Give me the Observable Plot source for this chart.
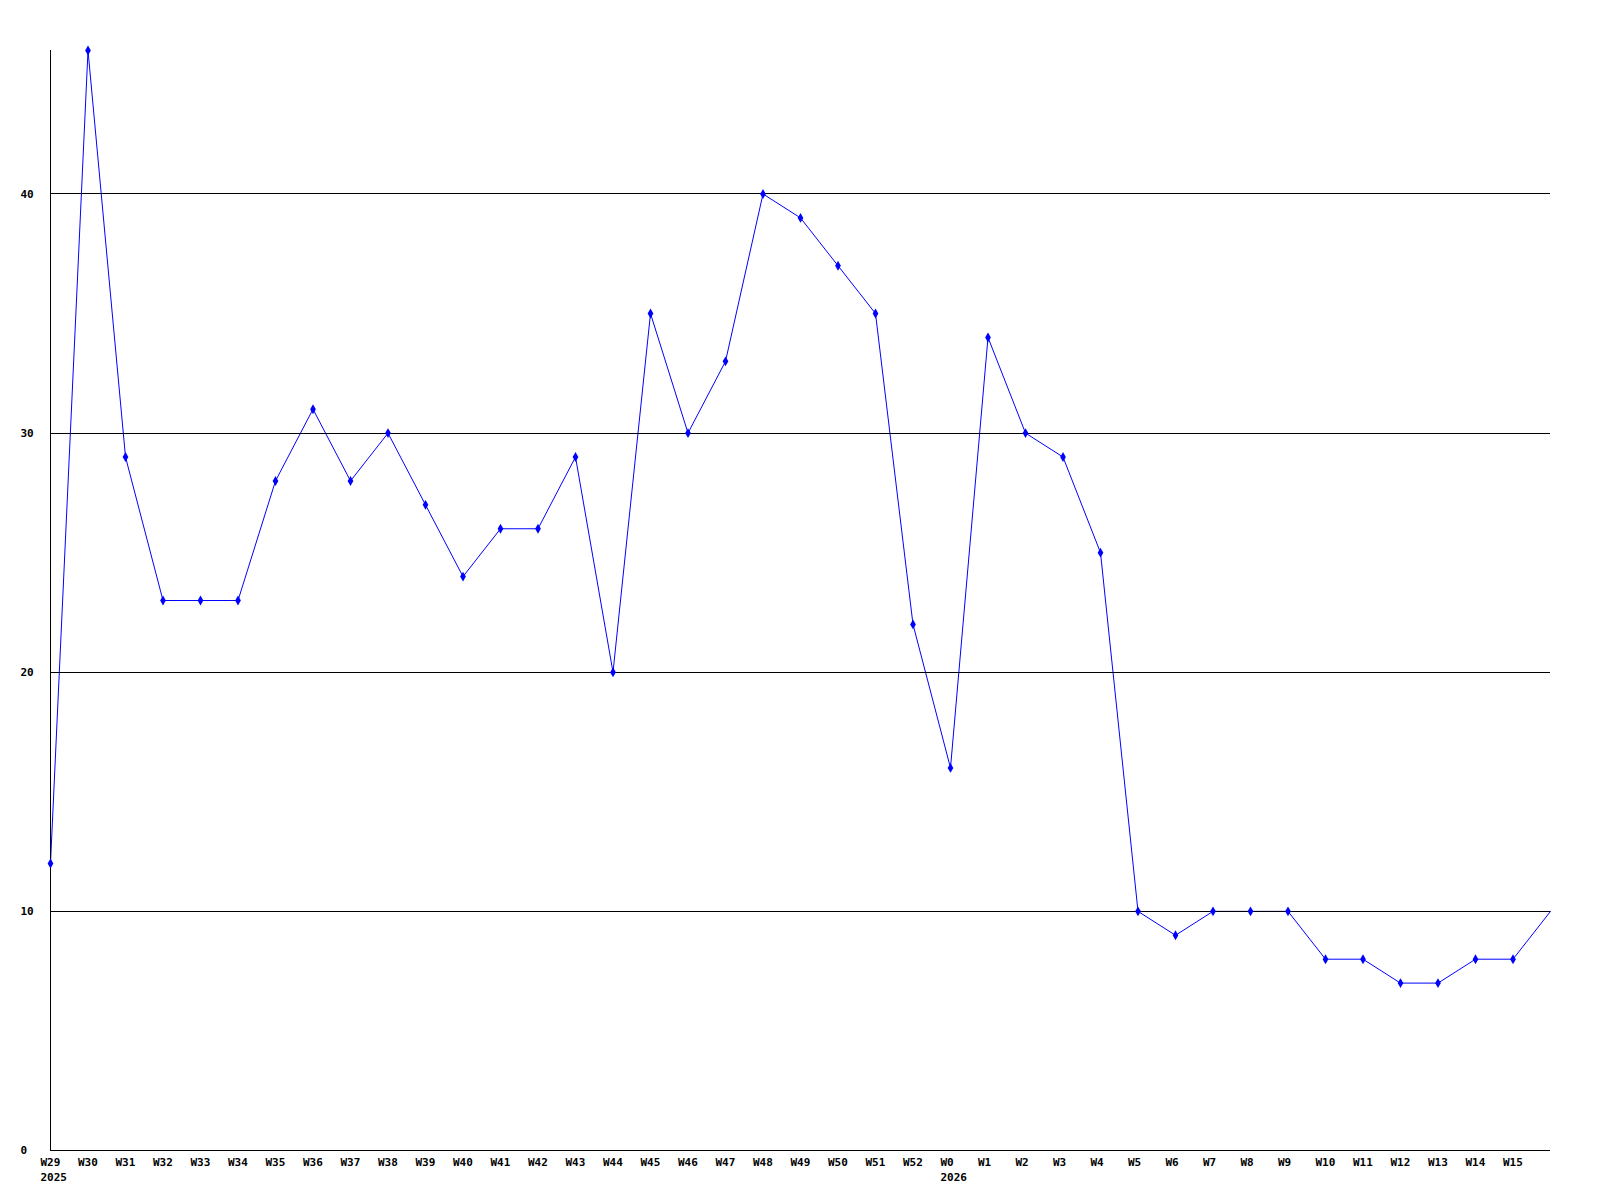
<!DOCTYPE html>
<html>
<head>
<meta charset="utf-8">
<script src="https://cdn.jsdelivr.net/npm/d3@7"></script>
<script src="https://cdn.jsdelivr.net/npm/@observablehq/plot@0.6"></script>
<style>
  html, body { margin: 0; padding: 0; background: #fff; }
</style>
</head>
<body>
<div id="chart"></div>
<script>
const weeks = ["W29","W30","W31","W32","W33","W34","W35","W36","W37","W38","W39","W40","W41","W42","W43","W44","W45","W46","W47","W48","W49","W50","W51","W52","W0","W1","W2","W3","W4","W5","W6","W7","W8","W9","W10","W11","W12","W13","W14","W15",""];
const values = [12,46,29,23,23,23,28,31,28,30,27,24,26,26,29,20,35,30,33,40,39,37,35,22,16,34,30,29,25,10,9,10,10,10,8,8,7,7,8,8,10];
const yearStarts = [[0, "2025"], [24, "2026"]];
const yTicks = [0, 10, 20, 30, 40];
const gridValues = [10, 20, 30, 40];

const data = values.map((v, i) => ({i, v}));
const marked = data.slice(0, weeks.length - 1);
const yearMap = new Map(yearStarts);
const tickIdx = d3.range(weeks.length - 1);

const chart = Plot.plot({
  width: 1600,
  height: 1200,
  marginLeft: 50,
  marginRight: 50,
  marginTop: 50,
  marginBottom: 50,
  style: {fontFamily: "'DejaVu Sans Mono', monospace", fontSize: "11px", fontWeight: "bold", background: "#fff", color: "#000"},
  x: {type: "linear", domain: [0, 40]},
  y: {domain: [0, 46]},
  marks: [
    Plot.line(data, {x: "i", y: "v", stroke: "#0000ff", strokeWidth: 1}),
    Plot.ruleY(gridValues, {stroke: "#000", strokeWidth: 1, shapeRendering: "crispEdges"}),
    Plot.ruleY([0], {stroke: "#000", strokeWidth: 1, shapeRendering: "crispEdges"}),
    Plot.ruleX([0], {y1: 0, y2: 46, stroke: "#000", strokeWidth: 1, shapeRendering: "crispEdges"}),
    Plot.dot(marked, {x: "i", y: "v", symbol: "diamond", r: 3, fill: "#0000ff", stroke: "none"}),
    Plot.axisX({
      ticks: tickIdx,
      tickSize: 0,
      tickPadding: 5,
      textAnchor: "start",
      dx: -10,
      lineHeight: 1.36,
      fill: "#000",
      label: null,
      tickFormat: (i) => yearMap.has(i) ? weeks[i] + "\n" + yearMap.get(i) : weeks[i]
    }),
    Plot.axisY({
      ticks: yTicks,
      tickSize: 0,
      tickPadding: 0,
      textAnchor: "start",
      dx: -30,
      fill: "#000",
      label: null,
      tickFormat: d3.format("d")
    })
  ]
});
document.getElementById("chart").appendChild(chart);
</script>
</body>
</html>
